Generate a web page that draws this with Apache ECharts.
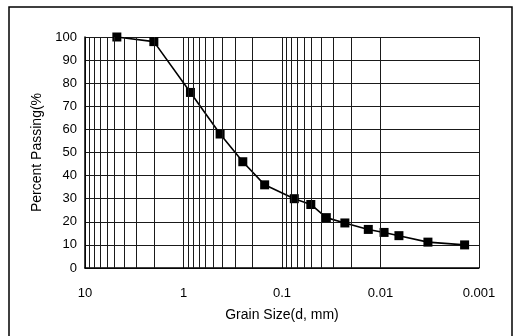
<!DOCTYPE html>
<html>
<head>
<meta charset="UTF-8">
<script src="https://cdn.jsdelivr.net/npm/echarts@6.0.0/dist/echarts.min.js"></script>
<style>html,body{margin:0;padding:0;background:#fff}</style>
</head>
<body>
<div id="chart" style="width:517px;height:336px;"></div>
<script>
// grain sizes (mm) and percent passing
const grainSize = [4.75, 2.0, 0.85, 0.425, 0.25, 0.15, 0.075, 0.051, 0.0355, 0.023, 0.0133, 0.0092, 0.0065, 0.0033, 0.0014];
const percentPassing = [100, 98, 76, 58, 46, 36, 30, 27.5, 21.8, 19.5, 16.7, 15.4, 14, 11.2, 10];
const xTickLabels = {'-3': '0.001', '-2': '0.01', '-1': '0.1', '0': '1', '1': '10'};
const decades = [0.001, 0.01, 0.1, 1];

// log grid lines at 2..9 of each decade
const minorLines = [];
decades.forEach(d => {
    for (let k = 2; k <= 9; k++) minorLines.push({xAxis: +(k * d).toPrecision(3)});
});

const font = 'Liberation Sans, Arial, sans-serif';
const gridColor = '#1a1a1a';
const chart = echarts.init(document.getElementById('chart'));

chart.setOption({
    animation: false,
    grid: {left: 85, right: 38, top: 37, bottom: 68},
    graphic: [{
        type: 'rect',
        shape: {x: 9, y: 7, width: 503, height: 340},
        style: {fill: 'none', stroke: '#000', lineWidth: 1.5},
        silent: true
    }],
    xAxis: {
        type: 'log',
        logBase: 10,
        min: 0.001,
        max: 10,
        inverse: true,
        name: 'Grain Size(d, mm)',
        nameLocation: 'middle',
        nameGap: 40,
        nameTextStyle: {fontFamily: font, fontSize: 14, color: '#000'},
        axisLine: {show: true, lineStyle: {color: '#000', width: 1.5}},
        axisTick: {show: false},
        axisLabel: {
            margin: 19,
            fontFamily: font, fontSize: 13, color: '#000',
            formatter: v => xTickLabels[String(Math.round(Math.log10(v)))] || ''
        },
        splitLine: {show: true, lineStyle: {color: gridColor, width: 1}}
    },
    yAxis: {
        type: 'value',
        min: 0,
        max: 100,
        interval: 10,
        name: 'Percent Passing(%',
        nameLocation: 'middle',
        nameGap: 39,
        nameTextStyle: {fontFamily: font, fontSize: 14, color: '#000'},
        axisLine: {show: true, lineStyle: {color: '#000', width: 1.5}},
        axisTick: {show: false},
        axisLabel: {margin: 8, fontFamily: font, fontSize: 13, color: '#000'},
        splitLine: {show: true, lineStyle: {color: gridColor, width: 1}}
    },
    series: [
        {
            type: 'line',
            z: 1,
            silent: true,
            data: grainSize.map((g, i) => [g, percentPassing[i]]),
            showSymbol: false,
            lineStyle: {opacity: 0},
            markLine: {
                silent: true,
                symbol: 'none',
                label: {show: false},
                lineStyle: {color: gridColor, width: 1, type: 'solid'},
                data: minorLines
            }
        },
        {
            type: 'line',
            z: 3,
            data: grainSize.map((g, i) => [g, percentPassing[i]]),
            symbol: 'rect',
            symbolSize: 9,
            itemStyle: {color: '#000'},
            lineStyle: {color: '#000', width: 1.6}
        }
    ]
});
</script>
</body>
</html>
